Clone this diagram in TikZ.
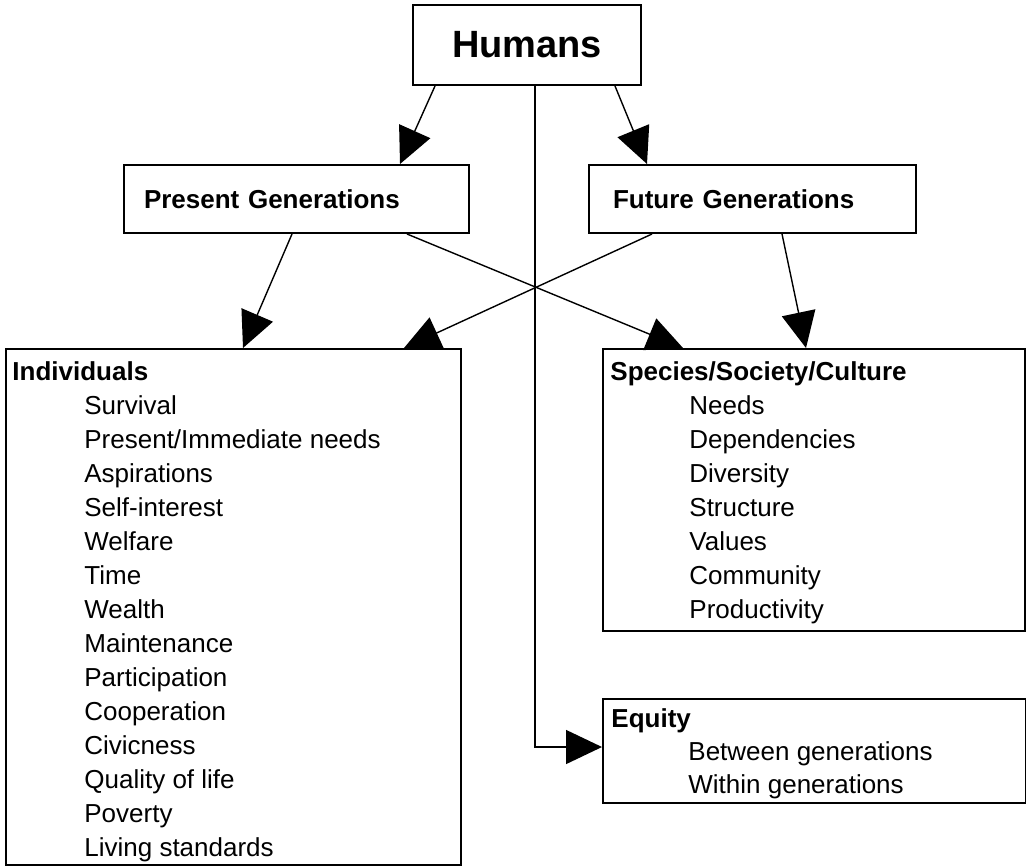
\documentclass[tikz,border=0pt]{standalone}
\usepackage{fontspec}
\setmainfont{Liberation Sans}
\usetikzlibrary{arrows.meta, positioning, calc}

\begin{document}
\begin{tikzpicture}[
  x=0.5pt, y=-0.5pt,
  box/.style={draw, line width=1pt, rectangle, inner sep=0pt, anchor=north west},
  gen/.style={box, minimum height=34pt, align=left, inner ysep=0pt, font=\fontsize{13}{16}\selectfont\bfseries},
  head/.style={anchor=base west, inner sep=0pt, font=\fontsize{13}{17}\selectfont\bfseries},
  item/.style={anchor=base west, inner sep=0pt, font=\fontsize{13}{17}\selectfont},
  link/.style={-{Triangle[length=18pt, width=17pt]}, line width=0.7pt}
]
  \useasboundingbox (0,0) rectangle (1026,867);

  % top level
  \node[box, minimum width=114pt, minimum height=40pt, font=\fontsize{19}{22}\selectfont\bfseries] (hum) at (412,4) {Humans};
  \node[gen, text width=152.5pt, inner xsep=10pt] (pres) at (123,164) {Present Generations};
  \node[gen, text width=139.5pt, inner xsep=12pt] (fut) at (588,164) {Future Generations};

  % lists
  \node[box, minimum width=227.5pt, minimum height=258pt] (ind) at (5,348) {};
  \node[head] (indh) at ([xshift=3.5pt, yshift=-16pt]ind.north west) {Individuals};
  \foreach \t [count=\i] in {Survival, Present/Immediate needs, Aspirations, Self-interest, Welfare, Time, Wealth, Maintenance, Participation, Cooperation, Civicness, Quality of life, Poverty, Living standards}
    \node[item] (ind\i) at ([xshift=39.5pt, yshift={-16pt-17pt*\i}]ind.north west) {\t};

  \node[box, minimum width=211pt, minimum height=141pt] (spec) at (602,348) {};
  \node[head] (spech) at ([xshift=4pt, yshift=-16pt]spec.north west) {Species/Society/Culture};
  \foreach \t [count=\i] in {Needs, Dependencies, Diversity, Structure, Values, Community, Productivity}
    \node[item] (spec\i) at ([xshift=43.5pt, yshift={-16pt-17pt*\i}]spec.north west) {\t};

  \node[box, minimum width=211.5pt, minimum height=52pt] (equ) at (602,698) {};
  \node[head] (equh) at ([xshift=4.5pt, yshift=-14.5pt]equ.north west) {Equity};
  \foreach \t [count=\i] in {Between generations, Within generations}
    \node[item] (equ\i) at ([xshift=43pt, yshift={-14.5pt-16.5pt*\i}]equ.north west) {\t};

  % connectors
  \draw[link] ([xshift=11.5pt]hum.south west) -- ([xshift=-35pt]pres.north east);
  \draw[link] ([xshift=-13.5pt]hum.south east) -- ([xshift=29.5pt]fut.north west);
  \draw[link] ([xshift=84.5pt]pres.south west) -- ([xshift=119pt]ind.north west);
  \draw[link] ([xshift=-31.5pt]pres.south east) -- ([xshift=40.5pt]spec.north west);
  \draw[link] ([xshift=32pt]fut.south west) -- ([xshift=-29pt]ind.north east);
  \draw[link] ([xshift=97pt]fut.south west) -- ([xshift=102pt]spec.north west);
  \draw[link] ([xshift=4pt]hum.south) |- ([yshift=2pt]equ.west);
\end{tikzpicture}
\end{document}
